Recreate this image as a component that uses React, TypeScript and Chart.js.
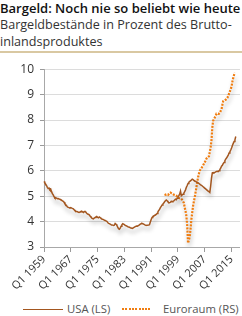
import React, { useEffect, useRef } from "react";
import { Chart, registerables } from "chart.js";

Chart.register(...registerables);

// ---- data ----
const TITLE = "Bargeld: Noch nie so beliebt wie heute";
const SUBTITLE_1 = "Bargeldbestände in Prozent des Brutto-";
const SUBTITLE_2 = "inlandsproduktes";

const FIRST_YEAR = 1959;
const QUARTER_COUNT = 235; // Q1 1959 .. Q3 2017 (axis span)
const X_TICK_LABELS = ["Q1 1959", "Q1 1967", "Q1 1975", "Q1 1983", "Q1 1991", "Q1 1999", "Q1 2007", "Q1 2015"];
const Y_TICKS = [3, 4, 5, 6, 7, 8, 9, 10];

const SERIES_USA_NAME = "USA (LS)";
const SERIES_EURO_NAME = "Euroraum (RS)";

// USA, quarterly from Q1 1959
const USA = [
  5.58, 5.52, 5.47, 5.42, // 1959
  5.35, 5.30, 5.32, 5.26, // 1960
  5.28, 5.18, 5.10, 5.05, // 1961
  4.98, 4.93, 4.94, 4.92, // 1962
  4.90, 4.91, 4.89, 4.88, // 1963
  4.86, 4.84, 4.82, 4.80, // 1964
  4.76, 4.70, 4.66, 4.62, // 1965
  4.58, 4.56, 4.55, 4.54, // 1966
  4.55, 4.53, 4.52, 4.50, // 1967
  4.47, 4.43, 4.41, 4.40, // 1968
  4.39, 4.37, 4.36, 4.38, // 1969
  4.40, 4.41, 4.38, 4.36, // 1970
  4.39, 4.40, 4.37, 4.33, // 1971
  4.30, 4.29, 4.27, 4.22, // 1972
  4.18, 4.14, 4.12, 4.11, // 1973
  4.14, 4.16, 4.18, 4.20, // 1974
  4.17, 4.15, 4.18, 4.16, // 1975
  4.13, 4.10, 4.09, 4.08, // 1976
  4.06, 4.04, 4.03, 4.01, // 1977
  3.97, 3.93, 3.92, 3.90, // 1978
  3.88, 3.87, 3.86, 3.85, // 1979
  3.86, 3.93, 3.90, 3.85, // 1980
  3.78, 3.72, 3.70, 3.74, // 1981
  3.82, 3.88, 3.92, 3.90, // 1982
  3.88, 3.85, 3.84, 3.82, // 1983
  3.80, 3.79, 3.78, 3.76, // 1984
  3.75, 3.74, 3.74, 3.76, // 1985
  3.78, 3.80, 3.82, 3.83, // 1986
  3.83, 3.85, 3.87, 3.90, // 1987
  3.92, 3.93, 3.92, 3.90, // 1988
  3.88, 3.86, 3.85, 3.86, // 1989
  3.86, 3.87, 3.88, 3.98, // 1990
  4.08, 4.16, 4.20, 4.22, // 1991
  4.24, 4.26, 4.28, 4.32, // 1992
  4.38, 4.44, 4.48, 4.55, // 1993
  4.60, 4.65, 4.69, 4.73, // 1994
  4.78, 4.82, 4.85, 4.82, // 1995
  4.78, 4.75, 4.74, 4.76, // 1996
  4.80, 4.78, 4.80, 4.82, // 1997
  4.85, 4.88, 4.86, 4.92, // 1998
  4.98, 5.02, 5.08, 5.20, // 1999
  5.02, 5.05, 5.08, 5.12, // 2000
  5.18, 5.25, 5.35, 5.42, // 2001
  5.50, 5.55, 5.58, 5.60, // 2002
  5.64, 5.67, 5.65, 5.62, // 2003
  5.60, 5.58, 5.56, 5.55, // 2004
  5.52, 5.50, 5.47, 5.45, // 2005
  5.43, 5.40, 5.37, 5.34, // 2006
  5.32, 5.29, 5.26, 5.23, // 2007
  5.20, 5.18, 5.15, 5.40, // 2008
  5.70, 5.92, 5.93, 5.92, // 2009
  5.94, 5.96, 5.97, 5.98, // 2010
  5.97, 6.00, 6.05, 6.10, // 2011
  6.18, 6.22, 6.28, 6.33, // 2012
  6.40, 6.46, 6.50, 6.56, // 2013
  6.62, 6.70, 6.75, 6.82, // 2014
  6.90, 7.00, 7.08, 7.15, // 2015
  7.22, 7.35,             // 2016
];

// Euroraum, quarterly from Q1 1995
const EURO_START = "Q1 1995";
const EURO = [
  5.08, 5.06, 5.05, 5.06, // 1995
  5.05, 5.08, 5.12, 5.14, // 1996
  5.12, 5.10, 5.08, 5.06, // 1997
  5.05, 5.04, 5.02, 4.98, // 1998
  4.94, 4.93, 4.92, 4.92, // 1999
  4.90, 4.86, 4.80, 4.74, // 2000
  4.56, 4.42, 4.22, 3.85, // 2001
  3.15, 3.28, 3.40, 3.71, // 2002
  4.09, 4.35, 4.61, 4.80, // 2003
  4.95, 5.15, 5.35, 5.55, // 2004
  5.75, 5.88, 6.00, 6.06, // 2005
  6.10, 6.16, 6.22, 6.28, // 2006
  6.34, 6.40, 6.48, 6.52, // 2007
  6.55, 6.57, 6.74, 6.93, // 2008
  7.20, 7.71, 7.97, 8.04, // 2009
  8.10, 8.16, 8.25, 8.25, // 2010
  8.24, 8.25, 8.28, 8.36, // 2011
  8.42, 8.60, 8.74, 8.77, // 2012
  8.79, 8.80, 8.84, 8.87, // 2013
  8.95, 9.04, 9.13, 9.22, // 2014
  9.32, 9.52, 9.66, 9.78, // 2015
  9.86,                   // 2016
];

// ---- styles ----
const FONT = "'Open Sans', 'DejaVu Sans', sans-serif";
const USA_COLOR = "#a3561f";
const EURO_COLOR = "#f07d10";

const LABELS: string[] = [];
for (let i = 0; i < QUARTER_COUNT; i++) {
  LABELS.push(`Q${(i % 4) + 1} ${FIRST_YEAR + Math.floor(i / 4)}`);
}

const shadowPlugin = {
  id: "lineShadow",
  beforeDatasetDraw(chart: any) {
    const ctx = chart.ctx;
    ctx.save();
    ctx.shadowColor = "rgba(0,0,0,0.28)";
    ctx.shadowBlur = 4;
    ctx.shadowOffsetX = 1;
    ctx.shadowOffsetY = 4;
  },
  afterDatasetDraw(chart: any) {
    chart.ctx.restore();
  },
};

export default function App() {
  const canvasRef = useRef<HTMLCanvasElement | null>(null);

  useEffect(() => {
    document.body.style.margin = "0";
    const euroOffset = LABELS.indexOf(EURO_START);
    const usaData = LABELS.map((_, i) => (i < USA.length ? USA[i] : null));
    const euroData = LABELS.map((_, i) =>
      i >= euroOffset && i - euroOffset < EURO.length ? EURO[i - euroOffset] : null
    );

    const chart = new Chart(canvasRef.current as HTMLCanvasElement, {
      type: "line",
      data: {
        labels: LABELS,
        datasets: [
          {
            label: SERIES_USA_NAME,
            data: usaData,
            borderColor: USA_COLOR,
            borderWidth: 1.5,
            pointRadius: 0,
            tension: 0,
            yAxisID: "y",
          },
          {
            label: SERIES_EURO_NAME,
            data: euroData,
            borderColor: EURO_COLOR,
            borderWidth: 2.2,
            borderDash: [2, 1.3],
            pointRadius: 0,
            tension: 0,
            yAxisID: "y1",
          },
        ],
      },
      options: {
        animation: false,
        responsive: false,
        maintainAspectRatio: false,
        layout: { padding: { top: 9, right: 2, left: 0, bottom: 0 } },
        plugins: {
          legend: { display: false },
          tooltip: { enabled: false },
        },
        scales: {
          x: {
            type: "category",
            offset: false,
            grid: {
              display: true,
              drawOnChartArea: false,
              drawTicks: true,
              tickLength: 5,
              tickColor: "#9a9a9a",
            },
            border: { display: true, color: "#a8a8a8", width: 1 },
            ticks: {
              autoSkip: false,
              maxRotation: 45,
              minRotation: 45,
              padding: 1,
              color: "#333",
              font: { family: FONT, size: 11 },
            },
            afterBuildTicks: (scale: any) => {
              scale.ticks = scale.ticks.filter((t: any) =>
                X_TICK_LABELS.includes(LABELS[t.value])
              );
            },
            afterFit: (scale: any) => {
              scale.height = 49;
            },
          },
          y: {
            type: "linear",
            position: "left",
            min: Y_TICKS[0],
            max: Y_TICKS[Y_TICKS.length - 1],
            grid: {
              color: "#dcdcdc",
              tickColor: "#9a9a9a",
              tickLength: 4,
              lineWidth: 1,
            },
            border: { display: true, color: "#a8a8a8", width: 1 },
            ticks: {
              stepSize: 1,
              padding: 6,
              color: "#333",
              font: { family: FONT, size: 12 },
            },
            afterFit: (scale: any) => {
              scale.width = 44;
            },
          },
          y1: {
            type: "linear",
            position: "right",
            display: false,
            min: Y_TICKS[0],
            max: Y_TICKS[Y_TICKS.length - 1],
          },
        },
      },
      plugins: [shadowPlugin],
    });
    return () => chart.destroy();
  }, []);

  return (
    <div style={{ position: "relative", width: 242, height: 316, fontFamily: FONT, overflow: "hidden", background: "#fff" }}>
      <div style={{ position: "absolute", left: 0, top: 0, fontSize: 13, fontWeight: 600, color: "#111", lineHeight: "16px", whiteSpace: "nowrap" }}>
        {TITLE}
      </div>
      <div style={{ position: "absolute", left: 0, top: 17, fontSize: 12.6, color: "#333", lineHeight: "16.7px", whiteSpace: "nowrap" }}>
        {SUBTITLE_1}
        <br />
        {SUBTITLE_2}
      </div>
      <div style={{ position: "absolute", left: 0, top: 51, width: 242, height: 2, background: "#d9c8a2" }} />
      <canvas ref={canvasRef} width={242} height={240} style={{ position: "absolute", left: 0, top: 56, width: 242, height: 240 }} />
      <div style={{ position: "absolute", left: 0, top: 302, width: 242, height: 14, fontSize: 11.3, color: "#555", lineHeight: "14px" }}>
        <span style={{ position: "absolute", left: 23, top: 7, width: 40, height: 0, borderTop: `1.5px solid ${USA_COLOR}` }} />
        <span style={{ position: "absolute", left: 67, top: 0, whiteSpace: "nowrap" }}>{SERIES_USA_NAME}</span>
        <span style={{ position: "absolute", left: 122, top: 6, width: 30, height: 2, background: `repeating-linear-gradient(90deg, ${EURO_COLOR} 0 2px, transparent 2px 3.3px)` }} />
        <span style={{ position: "absolute", left: 163, top: 0, whiteSpace: "nowrap" }}>{SERIES_EURO_NAME}</span>
      </div>
    </div>
  );
}
